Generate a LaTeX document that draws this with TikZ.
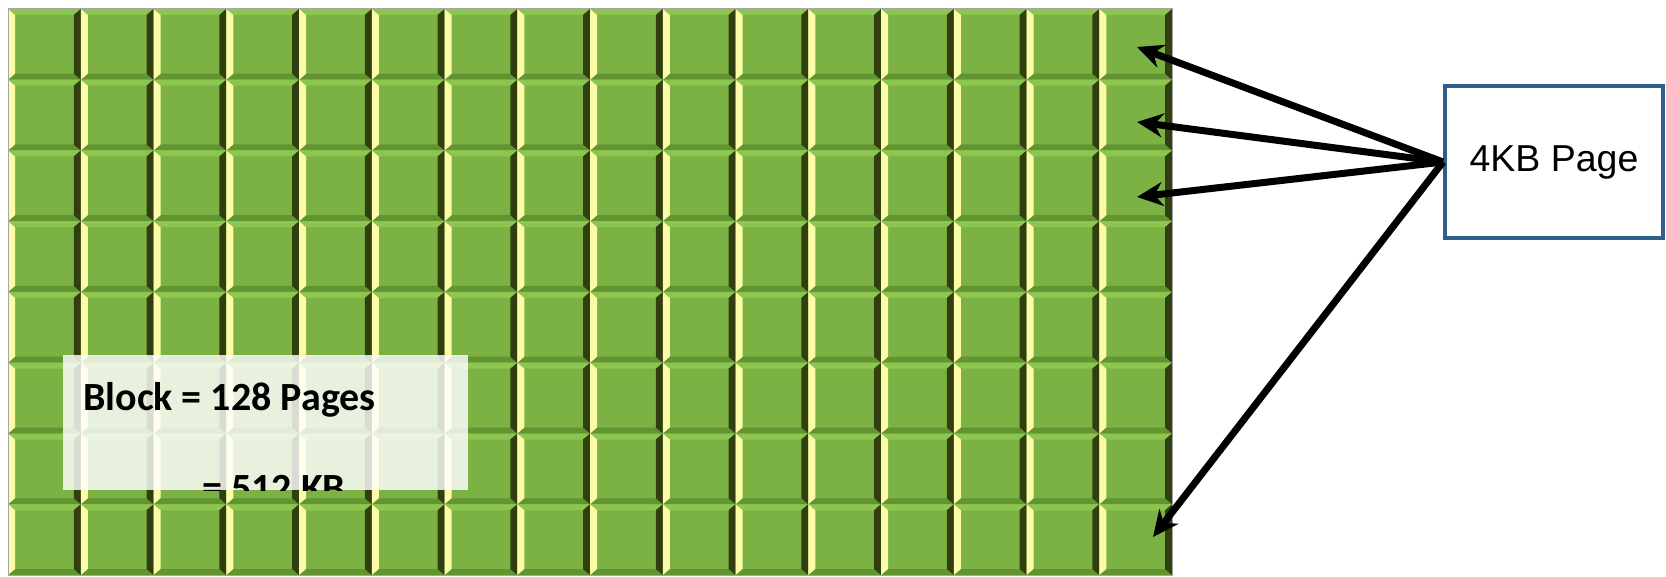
\documentclass[tikz,border=0pt]{standalone}
\usepackage{fontspec}
\setmainfont{Liberation Sans}
\newfontfamily\calib{Carlito}
\usetikzlibrary{arrows.meta}
\definecolor{cellgreen}{RGB}{124,178,68}
\definecolor{cellhi}{RGB}{140,198,80}
\definecolor{celllo}{RGB}{98,148,50}
\definecolor{cellyel}{RGB}{252,252,168}
\definecolor{celldark}{RGB}{48,62,16}
\definecolor{boxblue}{RGB}{46,95,138}
\tikzset{
  pagebox/.style={draw=boxblue, line width=4pt, fill=white, minimum width=218pt, minimum height=152pt, inner sep=0pt, font=\fontsize{37.5}{42}\selectfont},
  ptr/.style={line width=7pt, -{Stealth[length=26pt,width=24pt]}},
  lbl/.style={anchor=base west, inner sep=0pt, font=\calib\bfseries\fontsize{40}{46}\selectfont},
}
\begin{document}
\begin{tikzpicture}[x=1pt,y=-1pt]
\useasboundingbox (0,0) rectangle (1666,577);
\pgfmathsetmacro{\cw}{72.75}
\pgfmathsetmacro{\ch}{70.75}
\foreach \i in {0,...,15}{
  \foreach \j in {0,...,7}{
    \pgfmathsetmacro{\xa}{8+\i*\cw}
    \pgfmathsetmacro{\xb}{8+(\i+1)*\cw}
    \pgfmathsetmacro{\ya}{9+\j*\ch}
    \pgfmathsetmacro{\yb}{9+(\j+1)*\ch}
    \fill[cellgreen] (\xa,\ya) rectangle (\xb,\yb);
    \fill[cellhi] (\xa,\ya) -- (\xb,\ya) -- (\xb-7,\ya+6) -- (\xa+7,\ya+6) -- cycle;
    \fill[celllo] (\xa,\yb) -- (\xb,\yb) -- (\xb-7,\yb-6) -- (\xa+7,\yb-6) -- cycle;
    \fill[cellyel] (\xa,\ya) -- (\xa+7,\ya+6) -- (\xa+7,\yb-6) -- (\xa,\yb) -- cycle;
    \fill[celldark] (\xb,\ya) -- (\xb-7,\ya+6) -- (\xb-7,\yb-6) -- (\xb,\yb) -- cycle;
  }
}
\draw[gray!70, line width=1pt] (8,9) rectangle (1172,575);
% translucent label box
\fill[white, opacity=0.82] (63,355) rectangle (468,490);
\begin{scope}
  \clip (63,355) rectangle (468,490);
  \node[lbl] (blk) at (83,410) {Block = 128 Pages};
  \node[lbl] (kb) at (202,501) {= 512 KB};
\end{scope}
% page box
\node[pagebox] (pg) at (1554,162) {\raisebox{-4pt}{4KB Page}};
\coordinate (t1) at (1137,47);
\coordinate (t2) at (1137,122);
\coordinate (t3) at (1137,197);
\coordinate (t4) at (1153,537);
\coordinate (src) at (pg.west);
\draw[ptr] (src) -- (t1);
\draw[ptr] (src) -- (t2);
\draw[ptr] (src) -- (t3);
\draw[ptr] (src) -- (t4);
\end{tikzpicture}
\end{document}
